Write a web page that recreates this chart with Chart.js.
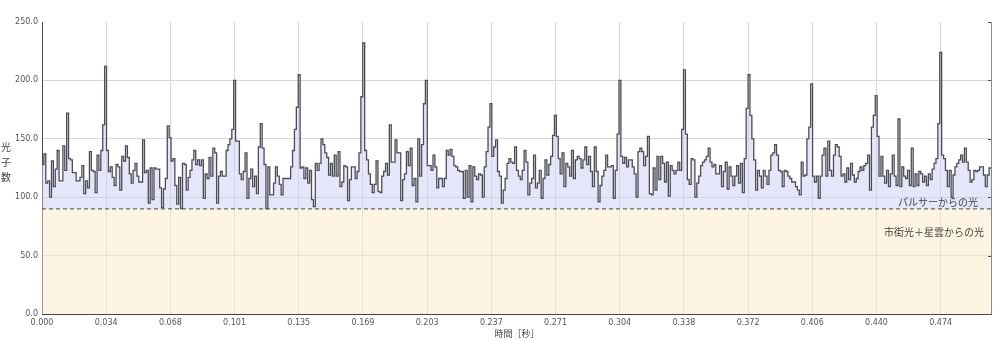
<!DOCTYPE html>
<html><head><meta charset="utf-8">
<script src="https://cdn.jsdelivr.net/npm/chart.js@4/dist/chart.umd.min.js"></script>
<style>html,body{margin:0;padding:0;background:#fff;}#wrap{width:1000px;height:340px;position:relative;}</style>
</head><body><div id="wrap"><canvas id="c" width="1000" height="340"></canvas></div>
<script>
// ---- data ----
const binWidth = 0.001;            // seconds per histogram bin
const timeMax = 0.5;
const backgroundLevel = 90;        // city light + nebula level
const pulsePeriod = 0.03382;       // tick spacing (seconds)
const xTickLabels = ["0.000","0.034","0.068","0.101","0.135","0.169","0.203","0.237","0.271","0.304","0.338","0.372","0.406","0.440","0.474"];
const yTickValues = [0,50,100,150,200,250];
const counts = [
128,137,112,114,100,131,109,124,140,114,114,144,123,172,133,132,121,121,114,114,117,127,103,114,108,139,123,122,104,136,123,140,162,
212,
140,122,126,117,110,128,126,106,135,131,144,134,120,112,123,129,118,113,113,149,121,123,95,125,98,125,124,124,108,91,107,116,
161,151,
131,133,110,94,117,90,129,128,106,117,123,132,140,128,132,127,132,99,
120,116,134,118,142,138,95,118,122,118,118,140,145,150,158,
200,
148,148,120,115,122,138,99,116,124,109,118,103,143,163,142,128,90,126,102,102,112,126,118,
111,102,116,116,116,116,126,140,158,177,
205,
125,126,116,125,112,123,98,92,129,123,129,150,145,138,134,119,
129,118,136,118,139,109,113,127,126,97,115,126,126,116,122,138,186,
232,
140,132,120,111,104,111,131,105,104,118,122,129,119,162,130,130,149,138,138,97,115,120,139,127,142,110,116,96,150,118,145,180,
200,
127,127,123,136,126,108,116,116,109,116,140,136,141,135,127,126,123,122,122,99,123,100,127,96,126,118,115,120,119,100,126,139,160,
180,
135,143,149,122,118,95,106,116,129,133,130,129,143,123,118,115,123,140,130,102,112,116,136,108,112,123,99,116,132,119,128,135,153,
170,
152,133,120,138,109,129,126,118,140,116,132,135,133,125,132,143,128,135,122,109,143,122,96,110,118,123,136,126,126,127,99,123,154,
200,
135,129,134,126,132,132,126,120,100,139,142,139,127,135,152,103,102,125,106,135,115,135,129,113,130,101,127,123,120,123,130,123,158,
209,
154,115,111,133,132,100,112,118,127,130,132,135,142,130,126,128,120,120,127,109,122,130,107,126,118,110,118,127,112,129,104,133,176,
205,
170,150,132,106,123,118,108,123,118,111,123,136,138,145,136,123,122,109,123,122,118,116,113,113,109,106,102,130,118,119,150,160,
197,
118,113,118,99,118,136,142,118,148,123,118,136,145,143,135,118,120,113,125,115,129,119,113,116,122,126,123,127,129,136,106,160,170,
187,
152,118,135,118,112,123,109,120,136,118,110,167,109,126,118,116,123,110,142,109,120,110,122,120,113,118,110,120,115,124,129,133,163,
224,
136,133,123,109,123,100,119,126,129,132,136,130,142,130,123,113,115,123,122,123,126,126,119,109,119,125
];
const yTitleChars = ["光","子","数"];
const xTitle = "時間［秒］";
const pulsarLabel = "パルサーからの光";
const backgroundLabel = "市街光＋星雲からの光";

// ---- build ----
const histPoints = counts.map((v,i)=>({x:i*binWidth, y:v}));
histPoints.push({x:counts.length*binWidth, y:counts[counts.length-1]});
const basePoints = [{x:0,y:backgroundLevel},{x:timeMax,y:backgroundLevel}];

const TICK_FONT = {family:"'DejaVu Sans', sans-serif", size:8};
const JP = "'Noto Sans CJK JP', sans-serif";

const overlay = {
  id:'overlay',
  afterDraw(chart){
    const {ctx, chartArea:a, scales:{x,y}} = chart;
    ctx.save();
    ctx.strokeStyle = '#8a8a8a'; ctx.lineWidth = 1;
    ctx.beginPath(); ctx.moveTo(a.right+0.5, a.top); ctx.lineTo(a.right+0.5, a.bottom); ctx.stroke();
    ctx.strokeStyle = '#555';
    yTickValues.forEach(v=>{ const py = Math.round(y.getPixelForValue(v))+0.5;
      ctx.beginPath(); ctx.moveTo(a.right-3, py); ctx.lineTo(a.right, py); ctx.stroke(); });
    ctx.fillStyle = '#444';
    ctx.font = "10px " + JP;
    ctx.textAlign = 'center'; ctx.textBaseline = 'middle';
    yTitleChars.forEach((c,i)=> ctx.fillText(c, 6, 147.5 + i*15));
    ctx.font = "9px " + JP;
    ctx.fillText(xTitle, (a.left+a.right)/2 + 0.5, 334);
    ctx.font = "10px " + JP;
    ctx.textAlign = 'right';
    ctx.fillText(pulsarLabel, a.right - 13, y.getPixelForValue(backgroundLevel) - 7);
    ctx.fillText(backgroundLabel, a.right - 7, y.getPixelForValue(backgroundLevel) + 23);
    ctx.restore();
  }
};

new Chart(document.getElementById('c'), {
  type:'line',
  data:{datasets:[
    {data:histPoints, stepped:true, borderColor:'#4d4d55', borderWidth:1.3, pointRadius:0,
     fill:{value:backgroundLevel}, backgroundColor:'rgba(205,205,247,0.5)', order:2},
    {data:basePoints, borderColor:'#444', borderWidth:1, borderDash:[4,3], pointRadius:0,
     fill:'origin', backgroundColor:'rgba(251,233,197,0.5)', order:1}
  ]},
  options:{
    responsive:false, animation:false, events:[],
    layout:{padding:{left:0,right:9,top:22,bottom:0}},
    plugins:{legend:{display:false}, tooltip:{enabled:false}},
    scales:{
      x:{type:'linear', min:0, max:timeMax,
        afterBuildTicks(s){ s.ticks = xTickLabels.map((l,k)=>({value:k*pulsePeriod})); },
        afterFit(s){ s.height = 26; },
        ticks:{autoSkip:false, maxRotation:0, padding:4, color:'#555', font:TICK_FONT,
          callback:(v,i)=>xTickLabels[i]},
        grid:{color:'#d8d8d8', drawTicks:false},
        border:{display:true, color:'#444', width:1}},
      y:{min:0, max:250,
        afterBuildTicks(s){ s.ticks = yTickValues.map(v=>({value:v})); },
        afterFit(s){ s.width = 42; },
        ticks:{padding:4, color:'#555', font:TICK_FONT, callback:v=>v.toFixed(1)},
        grid:{drawTicks:false, color:c=> c.tick && c.tick.value===250 ? 'rgba(0,0,0,0)' : '#d8d8d8'},
        border:{display:true, color:'#444', width:1}}
    }
  },
  plugins:[overlay]
});
</script></body></html>
